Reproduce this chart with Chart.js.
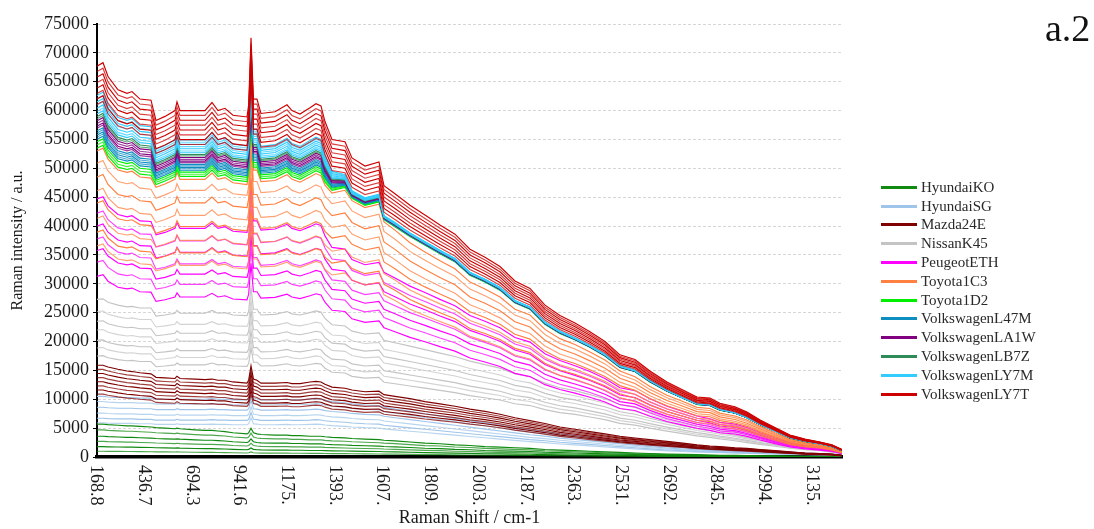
<!DOCTYPE html>
<html><head><meta charset="utf-8">
<script src="https://cdn.jsdelivr.net/npm/chart.js@4.4.1/dist/chart.umd.min.js"></script>
<style>
html,body{margin:0;padding:0;background:#fff;}
#wrap{position:relative;width:1094px;height:529px;overflow:hidden;background:#fff;}
#legend{position:absolute;left:881px;top:178px;font-family:'Liberation Serif','Times New Roman',serif;font-size:15px;color:#2a2a2a;}
.li{display:flex;align-items:center;height:18.8px;white-space:nowrap;}
.sw{width:36px;height:3px;margin-right:4px;}
#tag{position:absolute;left:1045px;top:6px;font-family:'Liberation Serif','Times New Roman',serif;font-size:38px;line-height:normal;color:#111;}
</style></head>
<body><div id="wrap"><canvas id="c" width="1094" height="529"></canvas><div id="legend"></div><div id="tag">a.2</div></div>
<script>
// x tick labels (Raman shift, cm-1), one every 10 detector points
const tickLabels = ["168.8","436.7","694.3","941.6","1175.","1393.","1607.","1809.","2003.","2187.","2363.","2531.","2692.","2845.","2994.","3135."];
const tickStep = 10;
const lastIndex = 156.2;
// detector point positions where the spectra were read
const shiftIndex = [0,1.26,2.31,4.40,6.29,7.34,9.01,11.32,12.37,14.26,16.35,16.77,17.40,20.55,22.64,24.11,25.37,26.83,28.51,31.45,31.8,32.29,32.8,33.54,34.38,37.32,39.83,40.88,42.56,44.65,45.91,46.96,47.80,49.27,51.99,53.46,56.18,59.12,60.17,62.47,65.62,68.76,71.91,75.05,78.20,81.34,84.49,87.63,90.78,93.92,97.06,100.21,103.35,106.50,109.64,112.79,115.93,119.50,122.85,125.79,128.51,130.61,133.75,136.27,139.04,142.14,145.28,148.43,151.57,154.09,156.18];

// profiles (thousands of a.u.)
const ly7tTop = [67.7,68.3,65.9,63.6,63.0,63.3,62.0,61.8,58.3,59.0,60.0,61.5,60.0,60.0,60.0,61.4,60.0,60.4,59.2,58.9,61.0,72.6,62.0,62.0,59.5,59.8,61.0,60.0,59.4,60.5,61.2,60.8,58.1,55.0,54.6,51.8,50.4,51.1,47.0,45.6,43.6,41.9,40.2,38.6,36.0,34.6,33.0,30.5,29.2,26.3,24.5,23.2,21.7,20.0,17.7,16.9,14.9,13.0,11.6,10.4,10.2,9.3,8.7,7.8,6.4,5.1,3.8,3.1,2.6,2.1,1.3];
const vwBandTop = [62.6,63.2,61.0,58.8,58.3,58.6,57.4,57.2,53.3,54.0,54.9,56.3,54.9,54.9,54.9,56.2,54.9,55.3,54.2,53.9,55.8,66.4,56.7,56.7,53.8,54.1,55.2,54.3,53.8,54.8,55.4,55.0,52.3,49.5,48.9,46.1,44.9,45.5,41.8,40.6,38.8,37.3,35.8,34.4,32.0,30.8,29.4,27.1,26.0,23.4,21.8,20.6,19.3,17.8,15.8,15.0,13.3,11.6,10.3,9.3,9.1,8.3,7.7,6.9,5.7,4.5,3.4,2.8,2.3,1.9,1.2];
const vwBandBottom = [53.5,54.0,52.1,50.2,49.8,50.0,49.0,48.8,47.2,47.8,48.6,49.8,48.6,48.6,48.6,49.7,48.6,48.9,48.0,47.7,49.4,58.8,50.2,50.2,48.2,48.4,49.4,48.6,48.1,49.0,49.6,49.2,47.6,46.2,46.7,44.8,43.6,44.2,41.1,39.9,38.2,36.7,35.2,33.8,31.5,30.3,28.9,26.7,25.6,23.0,21.4,20.3,19.0,17.5,15.5,14.8,13.0,11.4,10.2,9.1,8.9,8.1,7.6,6.8,5.6,4.5,3.3,2.7,2.3,1.8,1.1];
const toyota1C3Top = [53.0,53.5,51.6,49.7,49.3,49.5,48.5,48.3,46.7,47.3,48.1,49.3,48.1,48.1,48.1,49.2,48.1,48.4,47.5,47.2,48.9,58.2,49.7,49.7,47.7,47.9,48.9,48.1,47.6,48.5,49.1,48.7,47.1,45.7,46.2,44.4,43.2,43.8,40.7,39.3,37.1,35.5,34.0,32.6,30.3,29.1,27.7,25.6,24.6,22.1,20.5,19.5,18.2,16.8,14.9,13.9,12.2,10.7,9.6,8.6,8.4,7.6,7.1,6.4,5.3,4.2,3.1,2.5,2.2,1.7,1.0];
const peugeotTop = [44.7,45.1,43.5,42.0,41.6,41.8,40.9,40.8,38.5,38.9,39.6,40.6,39.6,39.6,39.6,40.5,39.6,39.9,39.1,38.9,40.3,47.9,40.9,40.9,39.3,39.5,40.3,39.6,39.2,39.9,40.4,40.1,38.3,36.3,36.0,34.2,33.3,33.7,32.0,31.0,29.6,28.5,27.3,26.2,24.5,23.5,22.4,20.7,19.9,17.9,16.7,15.8,14.8,13.6,12.0,11.5,10.1,8.8,7.9,7.1,6.6,6.0,5.7,5.1,4.2,3.3,2.5,2.0,1.7,1.4,0.85];
const nissanTop = [27.3,27.4,26.8,26.3,26.0,26.1,25.8,25.8,24.4,24.6,24.9,25.4,24.9,24.9,24.9,25.4,24.9,25.0,24.6,24.5,25.3,29.5,25.6,25.6,24.6,24.7,25.2,24.8,24.6,25.0,25.3,25.1,24.0,22.9,22.7,21.8,21.3,21.5,20.2,19.8,19.2,18.6,18.0,17.4,16.6,16.0,15.4,14.4,13.9,12.8,12.0,11.5,10.8,10.1,9.1,8.6,7.8,7.0,6.3,5.7,5.3,4.9,4.4,3.9,3.4,2.9,2.4,2.0,1.7,1.3,0.9];
const mazdaTop = [15.9,15.9,15.6,15.2,14.9,14.8,14.6,14.4,13.8,13.7,13.6,14.0,13.6,13.5,13.4,13.5,13.3,13.3,13.0,12.8,13.3,15.8,13.5,13.3,12.8,12.8,12.9,12.7,12.7,13.0,13.1,13.0,12.6,12.1,11.9,11.6,11.3,11.4,10.8,10.5,10.1,9.6,9.2,8.8,8.3,7.9,7.4,6.8,6.3,5.8,5.2,4.8,4.4,4.0,3.6,3.3,3.0,2.7,2.4,2.1,1.9,1.8,1.6,1.5,1.3,1.1,0.9,0.7,0.6,0.5,0.3];
const hyundaiSGTop = [10.5,10.5,10.4,10.3,10.3,10.3,10.2,10.2,10.0,10.0,10.0,10.2,10.0,10.0,10.0,10.1,10.0,10.0,9.9,9.9,10.2,12.0,10.2,10.1,9.9,9.9,10.0,9.9,9.9,10.0,10.1,10.0,9.8,9.6,9.4,9.2,9.0,8.9,8.6,8.3,7.9,7.5,7.1,6.7,6.3,5.9,5.5,5.1,4.7,4.4,4.0,3.7,3.4,3.1,2.8,2.5,2.2,1.9,1.7,1.5,1.4,1.3,1.2,1.1,1.0,0.9,0.8,0.7,0.6,0.5,0.4];
const hyundaiKOTop = [5.7,5.7,5.6,5.5,5.4,5.4,5.3,5.2,5.1,5.0,4.9,5.0,4.9,4.7,4.6,4.6,4.5,4.4,4.2,4.0,4.2,5.0,4.2,4.0,3.9,3.8,3.8,3.7,3.7,3.6,3.6,3.6,3.5,3.4,3.3,3.2,3.1,3.0,2.9,2.8,2.6,2.4,2.3,2.1,2.0,1.8,1.7,1.6,1.5,1.3,1.2,1.1,1.0,0.9,0.8,0.7,0.6,0.5,0.45,0.4,0.35,0.3,0.3,0.25,0.2,0.2,0.15,0.1,0.1,0.1,0.05];

// relative level of every spectrum of a sample against its top profile
const hyundaiKOLevels = [1,0.825,0.63,0.475,0.315,0.175];
const hyundaiSGLevels = [1,0.915,0.82,0.725,0.64,0.565];
const mazdaLevels = [1,0.955,0.91,0.865,0.82,0.775,0.73,0.685];
const nissanLevels = [1,0.923,0.861,0.806,0.74,0.692,0.641];
const peugeotLevels = [1,0.945,0.895,0.845,0.8,0.755,0.7];
const toyota1C3Levels = [1,0.96,0.915,0.87,0.83,0.78,0.735,0.69];
const ly7tLevels = [1,0.986,0.972,0.958,0.944,0.93,0.916,0.902];
// position of each spectrum inside the VW band (0 = band bottom, 1 = band top)
const toyota1D2Pos = [0.12,0.06,0];
const l47mPos = [0.33,0.29,0.25,0.21,0.17];
const la1wPos = [0.52,0.47,0.42,0.38];
const lb7zPos = [0.6,0.56];
const ly7mPos = [1,0.94,0.88,0.82,0.76,0.7,0.65];

const brandNames = ["HyundaiKO","HyundaiSG","Mazda24E","NissanK45","PeugeotETH","Toyota1C3","Toyota1D2","VolkswagenL47M","VolkswagenLA1W","VolkswagenLB7Z","VolkswagenLY7M","VolkswagenLY7T"];
const brandColors = ["#118a11","#9fc5ea","#800000","#c4c4c4","#ff00ff","#ff8040","#00ee00","#0e8ec0","#800080","#2e8b57","#33ccff","#cc0000"];

const scaled = (top, lv) => lv.map(f => top.map(v => v * 1000 * f));
const banded = (pos) => pos.map(p => vwBandBottom.map((b, i) => (b + p * (vwBandTop[i] - b)) * 1000));
const brandSeries = [
  scaled(hyundaiKOTop, hyundaiKOLevels),
  scaled(hyundaiSGTop, hyundaiSGLevels),
  scaled(mazdaTop, mazdaLevels),
  scaled(nissanTop, nissanLevels),
  scaled(peugeotTop, peugeotLevels),
  scaled(toyota1C3Top, toyota1C3Levels),
  banded(toyota1D2Pos),
  banded(l47mPos),
  banded(la1wPos),
  banded(lb7zPos),
  banded(ly7mPos),
  scaled(ly7tTop, ly7tLevels)
];

function rgba(hex, a) {
  const n = parseInt(hex.slice(1), 16);
  return `rgba(${n >> 16},${(n >> 8) & 255},${n & 255},${a})`;
}

const datasets = [];
brandSeries.forEach((lines, b) => {
  lines.forEach((vals, k) => {
    datasets.push({
      label: brandNames[b],
      data: vals.map((v, i) => ({x: shiftIndex[i], y: v})),
      borderColor: rgba(brandColors[b], k % 2 ? 0.75 : 1),
      borderWidth: 1.15,
      pointRadius: 0,
      fill: false,
      tension: 0
    });
  });
});
datasets.forEach((d, i) => d.order = -i);

// legend (HTML)
const lg = document.getElementById('legend');
brandNames.forEach((n, i) => {
  const row = document.createElement('div'); row.className = 'li';
  const sw = document.createElement('span'); sw.className = 'sw'; sw.style.background = brandColors[i];
  const tx = document.createElement('span'); tx.textContent = n;
  row.appendChild(sw); row.appendChild(tx); lg.appendChild(row);
});

const SERIF = "'Liberation Serif','Times New Roman',serif";
const xLabelPlugin = {
  id: 'xLabels',
  afterDraw(chart) {
    const sx = chart.scales.x, ctx = chart.ctx;
    ctx.save();
    ctx.font = "18px " + SERIF;
    ctx.fillStyle = '#1a1a1a';
    ctx.textAlign = 'left';
    ctx.textBaseline = 'middle';
    tickLabels.forEach((t, i) => {
      const px = sx.getPixelForValue(i * tickStep);
      ctx.save();
      ctx.translate(px - 1, sx.top + 8);
      ctx.rotate(Math.PI / 2);
      ctx.fillText(t, 0, 0);
      ctx.restore();
    });
    ctx.restore();
  }
};

new Chart(document.getElementById('c'), {
  type: 'line',
  data: {datasets},
  options: {
    responsive: false,
    animation: false,
    devicePixelRatio: 1,
    layout: {padding: {left: 0, right: 252, top: 24, bottom: 0}},
    plugins: {legend: {display: false}, tooltip: {enabled: false}},
    scales: {
      x: {
        type: 'linear', min: 0, max: lastIndex,
        ticks: {display: false},
        grid: {display: false},
        border: {display: true, color: '#000', width: 3.5},
        title: {display: true, text: 'Raman Shift / cm-1', color: '#1a1a1a', font: {family: SERIF, size: 18}, padding: {top: 0, bottom: 0}},
        afterFit(s) { s.height = 72; }
      },
      y: {
        min: 0, max: 75000,
        ticks: {stepSize: 5000, color: '#1a1a1a', font: {family: SERIF, size: 18}, padding: 4, callback: v => String(v)},
        grid: {color: '#d6d6d6', tickColor: '#000', tickLength: 4, lineWidth: 1},
        border: {display: true, color: '#000', width: 2, dash: [3, 2]},
        title: {display: true, text: 'Raman intensity / a.u.', color: '#1a1a1a', font: {family: SERIF, size: 16}, padding: {top: 8, bottom: 0}},
        afterFit(s) { s.width = 97; }
      }
    }
  },
  plugins: [xLabelPlugin]
});
</script>
</body></html>
